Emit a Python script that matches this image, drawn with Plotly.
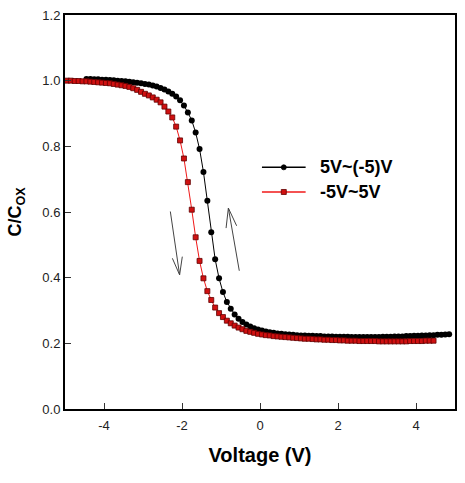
import plotly.graph_objects as go

# Sweep 5V -> -5V (black)
v_down = [-4.45, -4.35, -4.25, -4.15, -4.05, -3.95, -3.85, -3.75, -3.65, -3.55,
          -3.45, -3.35, -3.25, -3.15, -3.05, -2.95, -2.85, -2.75, -2.65, -2.55,
          -2.45, -2.35, -2.25, -2.15, -2.05, -1.95, -1.85, -1.75, -1.65, -1.55,
          -1.45, -1.35, -1.25, -1.15, -1.05, -0.95, -0.85, -0.75, -0.65, -0.55,
          -0.45, -0.35, -0.25, -0.15, -0.05, 0.05, 0.15, 0.25, 0.35, 0.45,
          0.55, 0.65, 0.75, 0.85, 0.95, 1.05, 1.15, 1.25, 1.35, 1.45,
          1.55, 1.65, 1.75, 1.85, 1.95, 2.05, 2.15, 2.25, 2.35, 2.45,
          2.55, 2.65, 2.75, 2.85, 2.95, 3.05, 3.15, 3.25, 3.35, 3.45,
          3.55, 3.65, 3.75, 3.85, 3.95, 4.05, 4.15, 4.25, 4.35, 4.45,
          4.55, 4.65, 4.75, 4.85]
c_down = [1.005, 1.005, 1.004, 1.004, 1.003, 1.003, 1.002, 1.001, 1.000, 0.999,
          0.998, 0.997, 0.995, 0.994, 0.992, 0.990, 0.988, 0.985, 0.982, 0.978,
          0.973, 0.967, 0.960, 0.952, 0.940, 0.924, 0.903, 0.879, 0.842, 0.792,
          0.722, 0.634, 0.538, 0.456, 0.398, 0.356, 0.326, 0.305, 0.288, 0.275,
          0.265, 0.257, 0.251, 0.246, 0.242, 0.239, 0.236, 0.234, 0.232, 0.230,
          0.229, 0.228, 0.227, 0.226, 0.225, 0.224, 0.224, 0.223, 0.223, 0.222,
          0.222, 0.221, 0.221, 0.221, 0.220, 0.220, 0.220, 0.220, 0.219, 0.219,
          0.219, 0.219, 0.219, 0.219, 0.219, 0.219, 0.220, 0.220, 0.220, 0.221,
          0.221, 0.221, 0.222, 0.222, 0.223, 0.223, 0.224, 0.224, 0.225, 0.225,
          0.226, 0.226, 0.227, 0.228]

# Sweep -5V -> 5V (red)
v_up = [-4.95, -4.85, -4.75, -4.65, -4.55, -4.45, -4.35, -4.25, -4.15, -4.05,
        -3.95, -3.85, -3.75, -3.65, -3.55, -3.45, -3.35, -3.25, -3.15, -3.05,
        -2.95, -2.85, -2.75, -2.65, -2.55, -2.45, -2.35, -2.25, -2.15, -2.05,
        -1.95, -1.85, -1.75, -1.65, -1.55, -1.45, -1.35, -1.25, -1.15, -1.05,
        -0.95, -0.85, -0.75, -0.65, -0.55, -0.45, -0.35, -0.25, -0.15, -0.05,
        0.05, 0.15, 0.25, 0.35, 0.45, 0.55, 0.65, 0.75, 0.85, 0.95,
        1.05, 1.15, 1.25, 1.35, 1.45, 1.55, 1.65, 1.75, 1.85, 1.95,
        2.05, 2.15, 2.25, 2.35, 2.45, 2.55, 2.65, 2.75, 2.85, 2.95,
        3.05, 3.15, 3.25, 3.35, 3.45, 3.55, 3.65, 3.75, 3.85, 3.95,
        4.05, 4.15, 4.25, 4.35, 4.45]
c_up = [1.000, 1.000, 0.999, 0.999, 0.998, 0.998, 0.997, 0.996, 0.995, 0.994,
        0.993, 0.992, 0.990, 0.988, 0.986, 0.984, 0.981, 0.977, 0.972, 0.966,
        0.960, 0.955, 0.949, 0.942, 0.934, 0.921, 0.906, 0.888, 0.860, 0.818,
        0.763, 0.691, 0.607, 0.523, 0.451, 0.398, 0.359, 0.332, 0.309, 0.292,
        0.280, 0.269, 0.261, 0.254, 0.248, 0.243, 0.238, 0.235, 0.232, 0.229,
        0.227, 0.225, 0.224, 0.222, 0.221, 0.220, 0.219, 0.218, 0.217, 0.216,
        0.215, 0.214, 0.214, 0.213, 0.212, 0.212, 0.211, 0.211, 0.210, 0.210,
        0.209, 0.209, 0.208, 0.208, 0.208, 0.207, 0.207, 0.207, 0.207, 0.207,
        0.206, 0.206, 0.206, 0.206, 0.206, 0.206, 0.206, 0.206, 0.207, 0.207,
        0.207, 0.207, 0.208, 0.208, 0.208]

series_names = ["5V~(-5)V", "-5V~5V"]
x_ticks = [-4, -2, 0, 2, 4]
y_ticks = [0.0, 0.2, 0.4, 0.6, 0.8, 1.0, 1.2]

FONT = "Liberation Sans, Arial, sans-serif"
BLACK = "black"
RED_LINE = "#f01818"
RED_FILL = "#d01010"
RED_EDGE = "#600000"

fig = go.Figure()
fig.add_trace(go.Scatter(
    x=v_down, y=c_down, mode="lines+markers", name=series_names[0],
    line=dict(color=BLACK, width=1),
    marker=dict(symbol="circle", size=6, color=BLACK),
))
fig.add_trace(go.Scatter(
    x=v_up, y=c_up, mode="lines+markers", name=series_names[1],
    line=dict(color=RED_LINE, width=1),
    marker=dict(symbol="square", size=5, color=RED_FILL,
                line=dict(color=RED_EDGE, width=0.8)),
))

# hysteresis direction arrows
arrow_col = "#444444"
arrows = [
    (-2.299, 0.6015, -2.061, 0.4085),
    (-2.061, 0.4085, -2.247, 0.459),
    (-2.061, 0.4085, -1.992, 0.464),
    (-0.531, 0.421, -0.811, 0.612),
    (-0.811, 0.612, -0.870, 0.551),
    (-0.811, 0.612, -0.599, 0.558),
]
for x0, y0, x1, y1 in arrows:
    fig.add_shape(type="line", x0=x0, y0=y0, x1=x1, y1=y1, xref="x", yref="y",
                  line=dict(color=arrow_col, width=1))

# manual legend (paper coordinates)
leg_x0, leg_x1, leg_xm, leg_tx = 0.505, 0.617, 0.561, 0.648
leg_rows = [0.6134, 0.5508]
leg_styles = [
    dict(line=BLACK, fill=BLACK, edge=BLACK, kind="circle", size=5),
    dict(line=RED_LINE, fill=RED_FILL, edge=RED_EDGE, kind="rect", size=5),
]
for name, yrow, st in zip(series_names, leg_rows, leg_styles):
    fig.add_shape(type="line", xref="paper", yref="paper",
                  x0=leg_x0, x1=leg_x1, y0=yrow, y1=yrow,
                  line=dict(color=st["line"], width=1.5))
    h = st["size"] / 2
    fig.add_shape(type=st["kind"], xref="paper", yref="paper",
                  xsizemode="pixel", ysizemode="pixel",
                  xanchor=leg_xm, yanchor=yrow,
                  x0=-h, x1=h, y0=-h, y1=h,
                  fillcolor=st["fill"], line=dict(color=st["edge"], width=0.8))
    fig.add_annotation(x=leg_tx, y=yrow, xref="paper", yref="paper",
                       text=f"<b>{name}</b>", showarrow=False,
                       xanchor="left", yanchor="middle",
                       font=dict(family=FONT, size=18, color="black"))

fig.update_layout(
    width=465, height=483,
    margin=dict(l=65, r=8, t=15, b=74),
    paper_bgcolor="white", plot_bgcolor="white",
    font=dict(family=FONT, size=13, color="#222"),
    showlegend=False,
)
fig.update_xaxes(
    range=[-5, 5], tickvals=x_ticks, ticktext=[str(t) for t in x_ticks],
    ticks="inside", ticklen=6, tickwidth=1, tickcolor="#333",
    showline=True, linecolor="black", linewidth=2, mirror=True,
    showgrid=False, zeroline=False, ticklabelstandoff=3,
    title=dict(text="<b>Voltage (V)</b>", font=dict(family=FONT, size=20, color="black"), standoff=16),
    tickfont=dict(family=FONT, size=13, color="#222"),
)
fig.update_yaxes(
    range=[0, 1.2], tickvals=y_ticks, ticktext=[f"{t:.1f}" for t in y_ticks],
    ticks="inside", ticklen=6, tickwidth=1, tickcolor="#333",
    showline=True, linecolor="black", linewidth=2, mirror=True,
    showgrid=False, zeroline=False,
    title=dict(text="<b>C/C<sub>OX</sub></b>", font=dict(family=FONT, size=18, color="black"), standoff=16),
    tickfont=dict(family=FONT, size=13, color="#222"),
)

fig.write_html("out.html")
